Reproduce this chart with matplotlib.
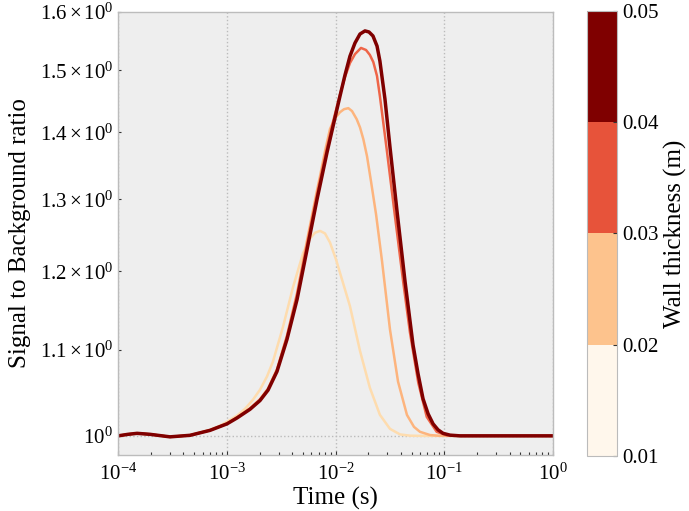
import matplotlib
matplotlib.use('Agg')
import matplotlib.pyplot as plt
import matplotlib.ticker as mticker
from matplotlib.colors import BoundaryNorm
from matplotlib.cm import ScalarMappable

plt.rcParams['font.family'] = ['Liberation Serif', 'DejaVu Serif']
plt.rcParams['mathtext.fontset'] = 'custom'
plt.rcParams['mathtext.rm'] = 'Liberation Serif'
plt.rcParams['mathtext.it'] = 'Liberation Serif:italic'
plt.rcParams['mathtext.bf'] = 'Liberation Serif:bold'

# ---- data (time in s, signal-to-background ratio) ----
thickness = [0.02, 0.03, 0.04, 0.05]
line_colors = ['#fedcae', '#fdb47d', '#ef6548', '#7f0000']
line_widths = [1.8, 1.8, 1.8, 2.5]

t_002 = [1.0e-4, 1.236e-4, 1.496e-4, 1.968e-4, 3.006e-4, 4.59e-4, 7.01e-4, 8.67e-4,
         1.005e-3, 1.241e-3, 1.472e-3, 1.742e-3, 2.02e-3, 2.345e-3, 2.66e-3, 3.29e-3,
         4.06e-3, 5.03e-3, 5.83e-3, 6.48e-3, 7.20e-3, 8.00e-3, 8.90e-3, 1.011e-2,
         1.10e-2, 1.358e-2, 1.679e-2, 2.07e-2, 2.56e-2, 3.17e-2, 3.92e-2, 4.84e-2,
         5.98e-2, 1.0]
r_002 = [1.0000, 1.0017, 1.0028, 1.0017, 0.9989, 1.0008, 1.0067, 1.0113,
         1.0158, 1.0226, 1.0304, 1.0409, 1.0524, 1.0681, 1.0859, 1.1285,
         1.1789, 1.2246, 1.2445, 1.2526, 1.2552, 1.2517, 1.2391, 1.2160,
         1.1981, 1.1547, 1.0989, 1.0548, 1.0236, 1.0078, 1.0016, 1.0002,
         1.0000, 1.0000]

t_003 = [1.0e-4, 1.236e-4, 1.496e-4, 1.968e-4, 3.006e-4, 4.59e-4, 7.01e-4, 1.005e-3,
         1.241e-3, 1.636e-3, 2.02e-3, 2.396e-3, 2.896e-3, 3.58e-3, 4.43e-3, 5.47e-3,
         6.76e-3, 7.20e-3, 8.00e-3, 8.90e-3, 9.89e-3, 1.10e-2, 1.197e-2, 1.312e-2,
         1.419e-2, 1.567e-2, 1.680e-2, 1.803e-2, 1.949e-2, 2.12e-2, 2.36e-2, 2.68e-2,
         3.17e-2, 3.76e-2, 4.54e-2, 5.27e-2, 5.98e-2, 7.40e-2, 9.14e-2, 1.0]
r_003 = [1.0000, 1.0017, 1.0028, 1.0017, 0.9989, 1.0006, 1.0064, 1.0140,
         1.0210, 1.0312, 1.0416, 1.0540, 1.0770, 1.1180, 1.1720, 1.2420,
         1.3130, 1.3335, 1.3710, 1.4054, 1.4223, 1.4318, 1.4365, 1.4382,
         1.4335, 1.4206, 1.4078, 1.3895, 1.3635, 1.3262, 1.2784, 1.2134,
         1.1250, 1.0619, 1.0235, 1.0100, 1.0045, 1.0009, 1.0000, 1.0000]

t_004 = [1.0e-4, 1.236e-4, 1.496e-4, 1.968e-4, 3.006e-4, 4.59e-4, 7.01e-4, 1.005e-3,
         1.241e-3, 1.636e-3, 2.02e-3, 2.396e-3, 2.896e-3, 3.58e-3, 4.43e-3, 5.47e-3,
         6.76e-3, 8.36e-3, 9.48e-3, 1.099e-2, 1.222e-2, 1.358e-2, 1.51e-2, 1.716e-2,
         1.908e-2, 2.07e-2, 2.227e-2, 2.407e-2, 2.56e-2, 2.957e-2, 3.524e-2, 4.201e-2,
         4.84e-2, 5.77e-2, 6.90e-2, 8.52e-2, 1.053e-1, 1.40e-1, 1.0]
r_004 = [1.0000, 1.0017, 1.0028, 1.0017, 0.9989, 1.0006, 1.0062, 1.0136,
         1.0205, 1.0305, 1.0407, 1.0530, 1.0755, 1.1165, 1.1695, 1.2365,
         1.3070, 1.3770, 1.4165, 1.4600, 1.4888, 1.5120, 1.5270, 1.5375,
         1.5340, 1.5256, 1.5136, 1.4905, 1.4574, 1.3740, 1.2755, 1.1852,
         1.1213, 1.0606, 1.0213, 1.0045, 1.0006, 1.0000, 1.0000]

t_005 = [1.0e-4, 1.236e-4, 1.496e-4, 1.968e-4, 3.006e-4, 4.59e-4, 7.01e-4, 1.005e-3,
         1.241e-3, 1.636e-3, 2.02e-3, 2.396e-3, 2.896e-3, 3.58e-3, 4.43e-3, 5.47e-3,
         6.76e-3, 8.36e-3, 9.48e-3, 1.099e-2, 1.222e-2, 1.358e-2, 1.51e-2, 1.679e-2,
         1.866e-2, 2.03e-2, 2.21e-2, 2.41e-2, 2.56e-2, 2.85e-2, 3.17e-2, 3.68e-2,
         4.36e-2, 5.16e-2, 5.74e-2, 6.38e-2, 7.10e-2, 7.89e-2, 8.77e-2, 9.75e-2,
         1.13e-1, 1.396e-1, 1.0]
r_005 = [1.0000, 1.0017, 1.0028, 1.0017, 0.9989, 1.0006, 1.0061, 1.0134,
         1.0200, 1.0299, 1.0399, 1.0520, 1.0740, 1.1130, 1.1633, 1.2294,
         1.2998, 1.3696, 1.4093, 1.4574, 1.4919, 1.5235, 1.5459, 1.5614,
         1.5668, 1.5650, 1.5581, 1.5406, 1.5153, 1.4526, 1.3772, 1.2826,
         1.1866, 1.1063, 1.0713, 1.0420, 1.0248, 1.0134, 1.0067, 1.0028,
         1.0008, 1.0000, 1.0000]

series_t = [t_002, t_003, t_004, t_005]
series_r = [r_002, r_003, r_004, r_005]

y_major = [1.0]
y_major_labels = [r'$10^{0}$']
y_minor = [1.1, 1.2, 1.3, 1.4, 1.5, 1.6]
y_minor_labels = [r'$1.1\times10^{0}$', r'$1.2\times10^{0}$', r'$1.3\times10^{0}$',
                  r'$1.4\times10^{0}$', r'$1.5\times10^{0}$', r'$1.6\times10^{0}$']
cbar_bounds = [0.01, 0.02, 0.03, 0.04, 0.05]
cbar_labels = ['0.01', '0.02', '0.03', '0.04', '0.05']

# ---- figure ----
fig = plt.figure(figsize=(6.89, 5.11), dpi=100)
ax = fig.add_axes([0.1713, 0.1096, 0.6313, 0.8669])
ax.set_facecolor('#eeeeee')

for t, r, c, lw in zip(series_t, series_r, line_colors, line_widths):
    ax.plot(t, r, color=c, lw=lw, solid_joinstyle='round', solid_capstyle='round')

ax.set_xscale('log')
ax.set_yscale('log')
ax.set_xlim(1e-4, 1.0)
ax.set_ylim(0.979, 1.6)

ax.yaxis.set_major_locator(mticker.FixedLocator(y_major))
ax.yaxis.set_major_formatter(mticker.FixedFormatter(y_major_labels))
ax.yaxis.set_minor_locator(mticker.FixedLocator(y_minor))
ax.yaxis.set_minor_formatter(mticker.FixedFormatter(y_minor_labels))

ax.xaxis.set_major_locator(mticker.LogLocator(base=10, numticks=10))
ax.xaxis.set_minor_locator(mticker.LogLocator(base=10, subs=range(2, 10), numticks=10))

ax.tick_params(axis='both', which='both', labelsize=15, direction='in', color='#333333')
ax.tick_params(axis='both', which='major', length=3, width=0.8)
ax.tick_params(axis='both', which='minor', length=2.5, width=0.8)
ax.tick_params(axis='x', which='major', pad=6)

ax.grid(True, which='major', color='#bbbbbb', linestyle=':', linewidth=1.0)
ax.set_axisbelow(True)
for s in ax.spines.values():
    s.set_color('#bcbcbc')
    s.set_linewidth(1.0)

ax.set_xlabel('Time (s)', fontsize=18, labelpad=2)
ax.set_ylabel('Signal to Background ratio', fontsize=18, labelpad=6)

# ---- colorbar ----
cmap = plt.get_cmap('OrRd', 4)
norm = BoundaryNorm(cbar_bounds, cmap.N)
sm = ScalarMappable(norm=norm, cmap=cmap)
cax = fig.add_axes([0.852, 0.1076, 0.0435, 0.871])
cb = fig.colorbar(sm, cax=cax, ticks=cbar_bounds)
cb.ax.set_yticklabels(cbar_labels)
cb.ax.tick_params(labelsize=15, direction='in', length=3, color='#333333')
cb.outline.set_edgecolor('#bbbbbb')
cb.set_label('Wall thickness (m)', fontsize=18, labelpad=4)

fig.savefig('out.png', dpi=100)
